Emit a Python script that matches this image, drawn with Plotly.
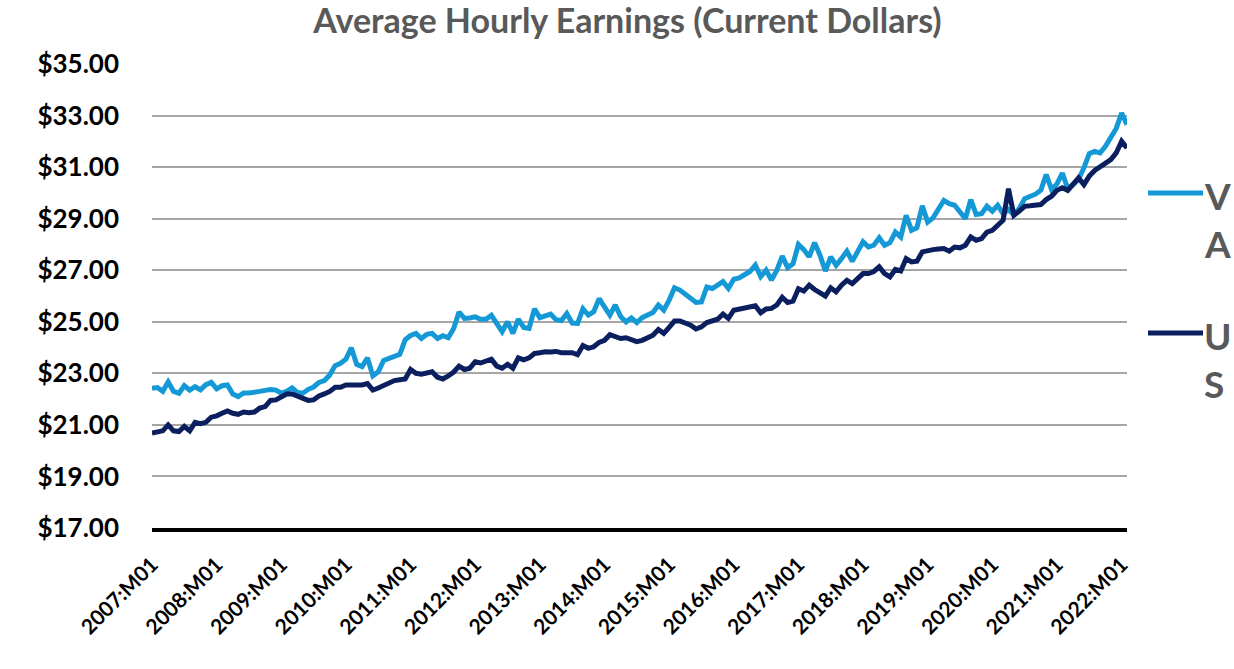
import plotly.graph_objects as go

years = list(range(2007, 2023))
months = [f"{y}:M{m:02d}" for y in years for m in range(1, 13)][:182]

va_2007 = [22.42, 22.45, 22.30, 22.66, 22.30, 22.23, 22.52, 22.35, 22.48, 22.36, 22.56, 22.65]
va_2008 = [22.40, 22.52, 22.55, 22.20, 22.10, 22.24, 22.24, 22.25, 22.30, 22.34, 22.37, 22.35]
va_2009 = [22.23, 22.30, 22.44, 22.26, 22.23, 22.38, 22.47, 22.65, 22.72, 22.94, 23.30, 23.39]
va_2010 = [23.55, 23.99, 23.35, 23.26, 23.60, 22.90, 23.06, 23.50, 23.58, 23.65, 23.74, 24.30]
va_2011 = [24.47, 24.55, 24.35, 24.51, 24.55, 24.35, 24.46, 24.38, 24.74, 25.38, 25.13, 25.15]
va_2012 = [25.19, 25.10, 25.10, 25.25, 24.90, 24.62, 25.00, 24.55, 25.10, 24.78, 24.74, 25.50]
va_2013 = [25.16, 25.23, 25.30, 25.08, 25.05, 25.32, 24.95, 24.94, 25.50, 25.26, 25.39, 25.90]
va_2014 = [25.60, 25.26, 25.65, 25.20, 24.99, 25.15, 24.97, 25.16, 25.26, 25.36, 25.65, 25.45]
va_2015 = [25.84, 26.32, 26.23, 26.05, 25.93, 25.75, 25.77, 26.35, 26.29, 26.40, 26.56, 26.30]
va_2016 = [26.65, 26.70, 26.80, 26.95, 27.20, 26.75, 27.00, 26.62, 27.00, 27.55, 27.10, 27.25]
va_2017 = [28.00, 27.80, 27.52, 28.07, 27.58, 26.97, 27.52, 27.19, 27.45, 27.74, 27.35, 27.77]
va_2018 = [28.10, 27.90, 27.97, 28.26, 27.97, 28.07, 28.48, 28.29, 29.13, 28.55, 28.65, 29.50]
va_2019 = [28.87, 29.03, 29.35, 29.71, 29.58, 29.52, 29.26, 29.00, 29.74, 29.16, 29.19, 29.48]
va_2020 = [29.29, 29.52, 29.19, 29.35, 29.15, 29.40, 29.77, 29.85, 29.95, 30.10, 30.71, 30.13]
va_2021 = [30.35, 30.77, 30.16, 30.32, 30.52, 30.97, 31.52, 31.61, 31.55, 31.81, 32.13, 32.50]
va_2022 = [33.10, 32.65]

us_2007 = [20.68, 20.74, 20.77, 21.00, 20.77, 20.74, 20.94, 20.77, 21.10, 21.05, 21.10, 21.30]
us_2008 = [21.35, 21.45, 21.54, 21.45, 21.41, 21.50, 21.47, 21.50, 21.65, 21.71, 21.95, 21.97]
us_2009 = [22.08, 22.20, 22.20, 22.12, 22.03, 21.95, 21.97, 22.12, 22.20, 22.30, 22.46, 22.46]
us_2010 = [22.55, 22.55, 22.52, 22.55, 22.60, 22.35, 22.43, 22.52, 22.63, 22.72, 22.75, 22.78]
us_2011 = [23.15, 23.00, 22.97, 23.02, 23.06, 22.85, 22.78, 22.90, 23.05, 23.28, 23.15, 23.20]
us_2012 = [23.45, 23.40, 23.48, 23.55, 23.28, 23.20, 23.35, 23.20, 23.60, 23.52, 23.60, 23.77]
us_2013 = [23.80, 23.84, 23.83, 23.85, 23.80, 23.78, 23.80, 23.72, 24.08, 23.97, 24.03, 24.20]
us_2014 = [24.28, 24.50, 24.45, 24.35, 24.38, 24.30, 24.23, 24.28, 24.40, 24.48, 24.70, 24.55]
us_2015 = [24.78, 25.03, 25.03, 24.95, 24.87, 24.72, 24.80, 24.97, 25.02, 25.10, 25.30, 25.13]
us_2016 = [25.45, 25.50, 25.53, 25.60, 25.62, 25.35, 25.50, 25.52, 25.65, 25.95, 25.75, 25.80]
us_2017 = [26.28, 26.19, 26.42, 26.25, 26.10, 26.00, 26.32, 26.16, 26.42, 26.61, 26.48, 26.68]
us_2018 = [26.87, 26.87, 26.95, 27.13, 26.87, 26.74, 27.03, 26.97, 27.45, 27.32, 27.35, 27.71]
us_2019 = [27.77, 27.80, 27.82, 27.84, 27.74, 27.90, 27.87, 27.97, 28.29, 28.16, 28.23, 28.48]
us_2020 = [28.55, 28.74, 28.94, 30.16, 29.13, 29.29, 29.48, 29.50, 29.52, 29.55, 29.74, 29.87]
us_2021 = [30.10, 30.20, 30.10, 30.32, 30.58, 30.32, 30.65, 30.87, 31.03, 31.16, 31.29, 31.55]
us_2022 = [32.00, 31.74]

va = (va_2007 + va_2008 + va_2009 + va_2010 + va_2011 + va_2012 + va_2013 + va_2014
      + va_2015 + va_2016 + va_2017 + va_2018 + va_2019 + va_2020 + va_2021 + va_2022)
us = (us_2007 + us_2008 + us_2009 + us_2010 + us_2011 + us_2012 + us_2013 + us_2014
      + us_2015 + us_2016 + us_2017 + us_2018 + us_2019 + us_2020 + us_2021 + us_2022)

tick_labels = [f"{y}:M01" for y in range(2007, 2023)]
y_ticks = [17, 19, 21, 23, 25, 27, 29, 31, 33, 35]

VA_COLOR = "#1499D6"
US_COLOR = "#0B1F5E"
FONT = "Lato"

fig = go.Figure()
fig.add_trace(go.Scatter(x=months, y=va, mode="lines", name="VA",
                         line=dict(color=VA_COLOR, width=5), showlegend=False))
fig.add_trace(go.Scatter(x=months, y=us, mode="lines", name="US",
                         line=dict(color=US_COLOR, width=5), showlegend=False))

W, H = 1234, 669
L, R, T, B = 152, 1127, 64, 528

def px(xs):
    return (xs - L) / (R - L)

def py(ys):
    return (B - ys) / (B - T)

# legend (manual)
for yy, col, txt in [(193, VA_COLOR, "V<br>A"), (333, US_COLOR, "U<br>S")]:
    fig.add_shape(type="line", xref="paper", yref="paper",
                  x0=px(1148), x1=px(1203), y0=py(yy), y1=py(yy),
                  line=dict(color=col, width=5))
    fig.add_annotation(xref="paper", yref="paper", x=px(1202), y=py(yy + 26),
                       xanchor="left", yanchor="middle", showarrow=False,
                       text=f"<b>{txt}</b>", align="left",
                       font=dict(family=FONT, size=37, color="#595959"))

fig.update_layout(
    width=W, height=H,
    margin=dict(l=L, r=W - R, t=T, b=H - B),
    paper_bgcolor="white", plot_bgcolor="white",
    title=dict(text="<b>Average Hourly Earnings (Current Dollars)</b>",
               x=627.5 / W, xanchor="center", xref="container",
               y=1 - 21 / H, yanchor="middle", yref="container",
               font=dict(family=FONT, size=34, color="#595959")),
    xaxis=dict(type="category", range=[0, len(months) - 1],
               tickmode="array", tickvals=tick_labels,
               ticktext=[f"<b>{t}</b>" for t in tick_labels],
               tickangle=-45, showgrid=False, showline=True,
               linecolor="black", linewidth=4, ticks="",
               ticklabelstandoff=12,
               tickfont=dict(family=FONT, size=21, color="black")),
    yaxis=dict(range=[17, 35], tickmode="array", tickvals=y_ticks,
               ticktext=[f"<b>${v:.2f}</b>" for v in y_ticks],
               showgrid=True, gridcolor="#A6A6A6", gridwidth=2,
               zeroline=False, showline=False, ticks="",
               ticklabelstandoff=32,
               tickfont=dict(family=FONT, size=26, color="black")),
)

fig.write_html(
    "out.html",
    config={"displayModeBar": False},
    post_script="document.body.style.margin='0';document.body.style.overflow='hidden';",
)
